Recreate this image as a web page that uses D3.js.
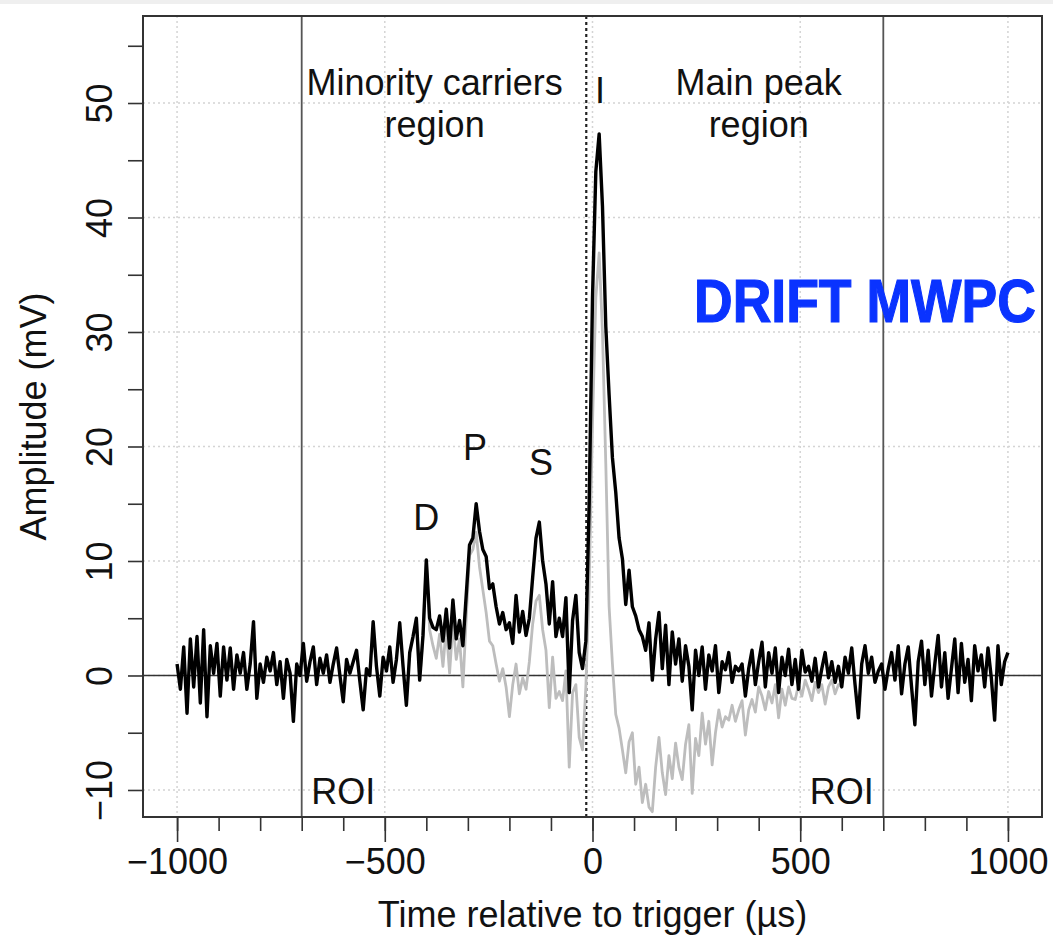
<!DOCTYPE html>
<html>
<head>
<meta charset="utf-8">
<script src="https://cdn.jsdelivr.net/npm/d3@7"></script>
<style>
  html, body { margin: 0; padding: 0; background: #fff; }
  svg { display: block; }
  text { font-family: "Liberation Sans", Arial, Helvetica, sans-serif; fill: #111; }
</style>
</head>
<body>
<svg id="chart" width="1053" height="937"></svg>
<script>
// ---- data ----------------------------------------------------------------
// sampling interval of the recorded traces (µs)
const sampleStep = 8;

// full signal, starting at -1000 µs (mV)
const totalStart = -1000;
const totalSignal = [
  1.0, -1.2, 2.5, -3.3, 3.2, -1.0, 3.4, -2.4, 4.0, -3.6,
  2.6, 0.2, 2.8, -1.8, 2.5, -0.4, 2.4, -1.2, 1.8, 0.2,
  2.0, -1.2, 1.0, 4.7, -2.0, 1.0, -0.6, 1.6, 0.4, 2.0,
  -0.8, 1.2, -2.0, 1.4, 0.2, -4.0, 1.0, 0.0, 2.8, -0.5,
  1.2, 2.5, -0.8, 1.5, 0.2, 1.8, -0.6, 1.0, 2.4, 0.0,
  -2.3, 1.4, 0.2, 1.2, 2.2, -0.5, -3.0, 0.6, 0.0, 4.7,
  0.8, -1.8, 1.6, 0.4, 2.5, -0.6, 1.4, 4.6, 0.8, -2.6,
  2.0, 3.4, 5.0, -0.4, 3.5, 10.1, 5.0, 4.2, 4.0, 5.2,
  3.0, 5.8, 2.4, 6.6, 3.2, 4.8, 2.6, 7.0, 11.4, 12.0,
  15.0, 12.6, 11.0, 10.4, 7.6, 8.0, 6.0, 4.5, 5.5, 4.0,
  4.6, 2.8, 7.0, 3.8, 5.6, 3.5, 5.0, 8.6, 12.0, 13.4,
  10.0, 8.0, 4.5, 8.2, 3.4, 5.0, 3.4, 6.8, -1.5, 4.8,
  7.0, 2.0, 0.6, 3.0, 15.0, 33.0, 44.0, 47.3, 41.0, 30.5,
  24.5, 19.0, 16.0, 12.0, 10.2, 6.2, 9.2, 6.0, 5.2, 4.0,
  3.4, 2.2, 4.6, -0.4, 3.2, 5.5, 0.6, 4.4, -0.8, 3.8,
  1.0, 3.2, -0.5, 2.6, 0.8, -3.0, 2.2, 0.0, 2.5, -1.2,
  1.8, 0.4, 2.6, -1.5, 1.2, 0.5, 2.0, -0.6, 0.8, 0.4,
  1.0, -1.8, 0.6, 2.2, -0.8, 1.2, 2.9, -1.0, 2.0, 0.2,
  2.4, -1.5, 1.6, 0.0, 2.3, -0.8, 1.4, -1.2, 2.2, 0.3,
  0.8, -0.5, 1.5, -1.0, 0.6, 2.0, -0.2, 1.2, -0.6, 0.8,
  -1.0, 1.6, 0.2, 2.4, -0.8, -3.7, 1.0, 2.6, 0.2, 1.6,
  -0.6, 0.4, 1.0, -1.2, 0.6, 2.0, -0.4, 2.6, -1.6, 1.0,
  2.5, -1.0, -4.3, 1.2, 3.0, -0.8, 2.2, -1.8, 1.0, 3.5,
  -1.0, 2.0, -2.0, 0.6, 3.2, -1.5, 2.8, -0.6, 1.4, -2.2,
  2.6, 0.4, 1.8, -1.0, 2.4, -0.2, -3.9, 2.6, -0.8, 1.2,
  2.0
];

// second trace (grey), identical to the full one before -424 µs
const secondStart = -424;
const secondSignal = [
  5.0, -0.4, 3.5, 10.1, 4.0, 2.6, 1.5, 3.6, 0.8, 4.2,
  0.2, 4.6, 1.4, 3.2, -1.0, 5.0, 10.5, 11.0, 12.5, 9.5,
  7.5, 5.5, 3.0, 2.6, 1.0, -0.5, 0.6, -1.0, -3.6, -0.8,
  1.0, -1.6, -0.2, -1.2, 1.2, 4.5, 6.5, 7.0, 4.0, 2.2,
  -2.8, 1.6, -2.0, -1.4, -2.2, 0.4, -8.0, -1.5, -0.8, -5.4,
  -6.5, -1.0, 8.0, 22.0, 33.0, 36.9, 30.0, 18.5, 6.0, 1.0,
  -3.4, -4.6, -6.5, -8.5, -5.8, -5.0, -9.5, -8.0, -11.1, -9.5,
  -11.5, -11.9, -8.0, -5.4, -8.5, -10.4, -7.0, -9.0, -5.9, -8.0,
  -9.1, -6.0, -4.3, -10.3, -5.5, -7.0, -3.3, -6.0, -4.0, -7.8,
  -5.0, -3.0, -4.5, -3.6, -3.9, -2.6, -4.0, -3.0, -2.2, -5.2,
  -3.0, -2.1, -3.2, -1.0, -1.8, -3.0, -1.4, -2.4, -0.8, -3.7,
  -1.2, -2.6, -1.0, -2.0, -2.1, -0.8, -1.8, -0.4, -1.2, -2.2,
  -0.6, -1.5, -0.8, -2.5, -1.0, -0.4, -1.6, -0.8, -1.0
];

// axis ticks
const xTickValues = [-1000, -500, 0, 500, 1000];
const xMinorTickValues = [-1000, -900, -800, -700, -600, -500, -400, -300, -200, -100,
  0, 100, 200, 300, 400, 500, 600, 700, 800, 900, 1000];
const yTickValues = [-10, 0, 10, 20, 30, 40, 50];
const yAllTickValues = [-10, -5, 0, 5, 10, 15, 20, 25, 30, 35, 40, 45, 50, 55];

// region of interest boundaries and trigger marker (µs)
const roiBounds = [-700, 700];
const triggerTime = -15;

// text annotations, anchored in data coordinates
const regionLabels = [
  { text: "Minority carriers", t: -380, v: 50.7 },
  { text: "region", t: -380, v: 47.0 },
  { text: "Main peak", t: 400, v: 50.7 },
  { text: "region", t: 400, v: 47.0 }
];
const peakLabels = [
  { text: "D", t: -400, v: 12.7 },
  { text: "P", t: -283, v: 18.8 },
  { text: "S", t: -124, v: 17.5 },
  { text: "I", t: 18, v: 50.0 }
];
const roiLabels = [
  { text: "ROI", t: -600, v: -11.2 },
  { text: "ROI", t: 600, v: -11.2 }
];

// ---- drawing -------------------------------------------------------------
const svg = d3.select("#chart");
const frame = { left: 143, right: 1042, top: 16, bottom: 817 };

const x = d3.scaleLinear().domain([-1082, 1082]).range([frame.left, frame.right]);
const y = d3.scaleLinear().domain([-12.36, 57.6]).range([frame.bottom, frame.top]);

// faint band along the very top edge
svg.append("rect").attr("x", 0).attr("y", 0).attr("width", 1053).attr("height", 4)
  .attr("fill", "#efefef");

// dotted grid
const grid = svg.append("g").attr("stroke", "#d4d4d4").attr("stroke-width", 1.5)
  .attr("stroke-dasharray", "2,3");
grid.selectAll("line.v").data(xTickValues).join("line")
  .attr("x1", d => x(d)).attr("x2", d => x(d))
  .attr("y1", frame.top).attr("y2", frame.bottom);
grid.selectAll("line.h").data(yTickValues).join("line")
  .attr("x1", frame.left).attr("x2", frame.right)
  .attr("y1", d => y(d)).attr("y2", d => y(d));

// ROI boundaries
svg.append("g").selectAll("line").data(roiBounds).join("line")
  .attr("x1", d => x(d)).attr("x2", d => x(d))
  .attr("y1", frame.top).attr("y2", frame.bottom)
  .attr("stroke", "#555").attr("stroke-width", 1.8);

// zero baseline
svg.append("line")
  .attr("x1", frame.left).attr("x2", frame.right)
  .attr("y1", y(0)).attr("y2", y(0))
  .attr("stroke", "#333").attr("stroke-width", 1.6);

// trigger marker
svg.append("line")
  .attr("x1", x(triggerTime)).attr("x2", x(triggerTime))
  .attr("y1", frame.top).attr("y2", frame.bottom)
  .attr("stroke", "#222").attr("stroke-width", 2.2)
  .attr("stroke-dasharray", "3,3");

// traces
const toPoints = (start, vals) => vals.map((v, i) => [start + i * sampleStep, v]);
const line = d3.line().x(d => x(d[0])).y(d => y(d[1]));

svg.append("path")
  .datum(toPoints(secondStart, secondSignal))
  .attr("d", line)
  .attr("fill", "none").attr("stroke", "#bdbdbd").attr("stroke-width", 2.8)
  .attr("stroke-linejoin", "round");

svg.append("path")
  .datum(toPoints(totalStart, totalSignal))
  .attr("d", line)
  .attr("fill", "none").attr("stroke", "#000").attr("stroke-width", 3.4)
  .attr("stroke-linejoin", "round");

// annotations
const ann = svg.append("g").attr("font-size", 36).attr("text-anchor", "middle");
ann.selectAll("text.region").data(regionLabels).join("text")
  .attr("x", d => x(d.t)).attr("y", d => y(d.v)).text(d => d.text);
ann.selectAll("text.peak").data(peakLabels).join("text")
  .attr("x", d => x(d.t)).attr("y", d => y(d.v)).text(d => d.text);
ann.selectAll("text.roi").data(roiLabels).join("text")
  .attr("x", d => x(d.t)).attr("y", d => y(d.v)).text(d => d.text);

// plot frame
svg.append("rect")
  .attr("x", frame.left).attr("y", frame.top)
  .attr("width", frame.right - frame.left).attr("height", frame.bottom - frame.top)
  .attr("fill", "none").attr("stroke", "#333").attr("stroke-width", 2);

// x axis: minor ticks, then labelled major ticks
const xMinor = svg.append("g").attr("transform", `translate(0,${frame.bottom})`)
  .call(d3.axisBottom(x).tickValues(xMinorTickValues).tickSize(14).tickFormat(""));
const xMajor = svg.append("g").attr("transform", `translate(0,${frame.bottom})`)
  .call(d3.axisBottom(x).tickValues(xTickValues).tickSize(25).tickFormat(d3.format("d")));
[xMinor, xMajor].forEach(g => {
  g.select(".domain").remove();
  g.selectAll(".tick line").attr("stroke", "#333").attr("stroke-width", 1.6);
});
xMajor.selectAll(".tick text")
  .attr("y", 57).attr("dy", 0)
  .attr("font-size", 36).attr("fill", "#111")
  .attr("font-family", '"Liberation Sans", Arial, sans-serif');

// y axis with rotated labels
const yAxis = svg.append("g").attr("transform", `translate(${frame.left},0)`)
  .call(d3.axisLeft(y).tickValues(yAllTickValues).tickSize(15)
    .tickFormat(d => yTickValues.includes(d) ? d3.format("d")(d) : ""));
yAxis.select(".domain").remove();
yAxis.selectAll(".tick line").attr("stroke", "#333").attr("stroke-width", 1.6);
yAxis.selectAll(".tick text")
  .attr("transform", "rotate(-90)")
  .attr("x", 0).attr("y", -31).attr("dy", 0)
  .attr("text-anchor", "middle")
  .attr("font-size", 36).attr("fill", "#111")
  .attr("font-family", '"Liberation Sans", Arial, sans-serif');

// axis titles
svg.append("text")
  .attr("x", (frame.left + frame.right) / 2).attr("y", 927)
  .attr("text-anchor", "middle").attr("font-size", 36)
  .text("Time relative to trigger (\u00b5s)");
svg.append("text")
  .attr("transform", `translate(46,${(frame.top + frame.bottom) / 2}) rotate(-90)`)
  .attr("text-anchor", "middle").attr("font-size", 36)
  .text("Amplitude (mV)");

// detector tag: bold type squeezed horizontally into a fixed width
const tagWidth = 342;
const tag = svg.append("text")
  .attr("x", 0).attr("y", 0)
  .attr("font-family", '"DejaVu Sans", sans-serif')
  .attr("font-weight", "bold").attr("font-size", 62)
  .style("fill", "#0a33ff")
  .style("stroke", "#0a33ff").style("stroke-width", 1.2)
  .text("DRIFT MWPC");
const tagNatural = tag.node().getComputedTextLength();
tag.attr("transform", `translate(694,322) scale(${tagWidth / tagNatural},1)`);
</script>
</body>
</html>
